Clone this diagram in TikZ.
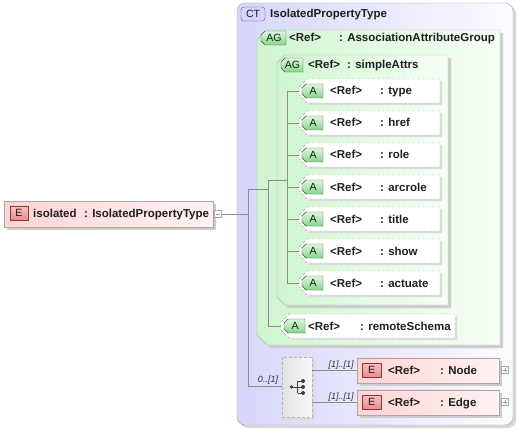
\documentclass[tikz,border=0pt]{standalone}
\usepackage{fontspec}
\setmainfont{Liberation Sans}
\definecolor{ctl}{HTML}{D6D6FA}
\definecolor{ctr}{HTML}{FBFBFF}
\definecolor{ctline}{HTML}{A8A8B8}
\definecolor{ctbf}{HTML}{D4D4FC}
\definecolor{ctbd}{HTML}{50508C}
\definecolor{agl}{HTML}{CFF5CF}
\definecolor{agr}{HTML}{F6FFF6}
\definecolor{agline}{HTML}{B0B8B0}
\definecolor{agbt}{HTML}{DDF8DD}
\definecolor{agbb}{HTML}{88D488}
\definecolor{agbd}{HTML}{2E5E2E}
\definecolor{el}{HTML}{FFD4D4}
\definecolor{er}{HTML}{FFF2F2}
\definecolor{eline}{HTML}{A8A8A8}
\definecolor{ebt}{HTML}{F8C0C0}
\definecolor{ebb}{HTML}{EA8C8C}
\definecolor{ebd}{HTML}{903838}
\definecolor{shadowc}{HTML}{CDCDCD}
\definecolor{connc}{HTML}{8C8C8C}
\definecolor{attline}{HTML}{A8A8A8}
\newcommand\chamfbox[6]{\path[#6] (#1+#5,#2) -- (#3,#2) -- (#3,#4) -- (#1+#5,#4) -- (#1,#4-#5) -- (#1,#2+#5) -- cycle;}
\newcommand\pointbox[5]{\path[#5] (#1+8,#3-12) -- (#2,#3-12) -- (#2,#3+12) -- (#1+8,#3+12) -- (#1,#3+4) -- (#1,#3-4) -- cycle;}
% #1 name, #2 x1, #3 x2, #4 cy, #5 text1 x, #6 text2 x, #7 label
\newcommand\attrib[7]{%
  \pointbox{#2+2}{#3+2}{#4+2}{}{fill=shadowc!70}
  \pointbox{#2}{#3}{#4}{}{draw=attline, dashed, dash pattern=on 3pt off 2pt, fill=white}
  \coordinate (#1) at (#2,#4);
  \chamfbox{#2+3}{#4-7}{#2+24}{#4+7}{4}{draw=agbd, top color=agbt, bottom color=agbb}
  \node[bdg] at (#2+14,#4) {A};
  \node[txt] at (#5,#4+4) {<Ref>};
  \node[txt] at (#6,#4+4) {: #7};
}
\begin{document}
\begin{tikzpicture}[x=1pt,y=-1pt,
  txt/.style={anchor=base west, inner sep=0, font=\bfseries\fontsize{11.5}{13}\selectfont, text=black!88},
  lbl/.style={inner sep=0, font=\itshape\fontsize{9}{10}\selectfont, text=black!80},
  bdg/.style={inner sep=0, font=\fontsize{10.5}{12}\selectfont, text=black!90},
  conn/.style={draw=connc, line width=0.6pt},
  ebox/.style={draw=eline, left color=el, right color=er, inner sep=0, anchor=north west},
  plusbox/.style={draw=gray!70, fill=white, minimum size=7, inner sep=0},
]
\useasboundingbox (0,0) rectangle (518,430);
\fill[white] (0,0) rectangle (518,430);

% complex type box
\fill[shadowc!80, rounded corners=8] (240,6) rectangle (516,428);
\path[draw=ctline, rounded corners=8, left color=ctl, right color=ctr] (237,3) rectangle (513,425);
\path[draw=ctbd, fill=ctbf, rounded corners=3] (241,7) rectangle (265,21);
\node[bdg] at (253,14) {CT};
\node[txt] (cttitle) at (270,18) {IsolatedPropertyType};

% outer attribute group
\chamfbox{260}{33}{503}{348}{10}{fill=shadowc}
\chamfbox{257}{30}{500}{345}{10}{draw=agline, left color=agl, right color=agr}
\chamfbox{261}{31}{286}{45}{4}{draw=agbd, top color=agbt, bottom color=agbb}
\node[bdg] at (274,38) {AG};
\node[txt] at (289,42) {<Ref>};
\node[txt] at (339,42) {: AssociationAttributeGroup};

% inner attribute group
\chamfbox{280}{58}{451}{308}{8}{fill=shadowc}
\chamfbox{277}{55}{448}{305}{8}{draw=agline, left color=agl, right color=agr}
\chamfbox{281}{58}{303}{72}{4}{draw=agbd, top color=agbt, bottom color=agbb}
\node[bdg] at (292.5,65) {AG};
\node[txt] at (308,69) {<Ref>};
\node[txt] at (347,69) {: simpleAttrs};

\attrib{type}{299}{440}{91}{330}{380}{type}
\attrib{href}{299}{440}{123}{330}{380}{href}
\attrib{role}{299}{440}{155}{330}{380}{role}
\attrib{arcrole}{299}{440}{187}{330}{380}{arcrole}
\attrib{title}{299}{440}{219}{330}{380}{title}
\attrib{show}{299}{440}{251}{330}{380}{show}
\attrib{actuate}{299}{440}{283}{330}{380}{actuate}

\attrib{remote}{281}{455}{326}{308}{360}{remoteSchema}

% element isolated
\fill[shadowc] (7,204) rectangle (216,230);
\node[ebox, minimum width=209, minimum height=26] (iso) at (4,201) {};
\path[draw=ebd, top color=ebt, bottom color=ebb] (10,206) rectangle (28,220);
\node[bdg] at (19,213) {E};
\node[txt] at (33,217) {isolated};
\node[txt] at (84,217) {: IsolatedPropertyType};
\node[plusbox] (isom) at (218,214) {};
\draw[gray!80] (215.8,214) -- (220.2,214);

% connectors
\coordinate (j1) at (248,214);
\coordinate (j1t) at (248,189);
\coordinate (j1b) at (248,386);
\coordinate (j2m) at (268,189);
\coordinate (j2t) at (268,180);
\coordinate (j2b) at (268,326);
\coordinate (j3m) at (287,180);
\coordinate (j3t) at (287,91);
\coordinate (j3b) at (287,283);
\draw[conn] (isom.east) -- (j1);
\draw[conn] (j1t) -- (j1b);
\draw[conn] (j1t) -- (j2m);
\draw[conn] (j2t) -- (j2b) -- (remote);
\draw[conn] (j2t) -- (j3m);
\draw[conn] (j3t) -- (j3b);
\foreach \a in {type,href,role,arcrole,title,show,actuate}
  \draw[conn] (j3t |- \a) -- (\a);

% sequence compositor
\fill[shadowc!70] (285,360) rectangle (315,420);
\node[draw=gray!60, dashed, dash pattern=on 3pt off 2pt, left color=gray!22, right color=gray!6, minimum width=30, minimum height=60, inner sep=0, anchor=north west] (seq) at (282,357) {};
\draw[conn] (j1b) -- (seq.west |- j1b);
\node[lbl] at (268,380) {0..[1]};
\begin{scope}[black!75]
  \fill (291.5,387) circle (1.8);
  \draw[line width=0.9pt] (291.5,387) -- (297.5,387);
  \draw[line width=0.9pt] (297.5,381) -- (297.5,393);
  \draw[line width=0.9pt] (297.5,381) -- (303,381) (297.5,387) -- (303,387) (297.5,393) -- (303,393);
  \fill (303,381) circle (2) (303,387) circle (2) (303,393) circle (2);
\end{scope}

% Node element
\fill[shadowc] (360,360.5) rectangle (502,385.5);
\node[ebox, minimum width=142, minimum height=25] (nodeE) at (357,357.5) {};
\path[draw=ebd, top color=ebt, bottom color=ebb] (362,363) rectangle (381,377);
\node[bdg] at (371.5,370) {E};
\node[txt] at (388,374) {<Ref>};
\node[txt] at (440,374) {: Node};
\node[plusbox] (nodeP) at (505,370) {};
\draw[gray!80] (503,370) -- (507,370) (505,368) -- (505,372);
\draw[conn] (seq.east |- nodeE.west) -- (nodeE.west);
\node[lbl] at (341,365) {[1]..[1]};

% Edge element
\fill[shadowc] (360,392.5) rectangle (502,417.5);
\node[ebox, minimum width=142, minimum height=25] (edgeE) at (357,389.5) {};
\path[draw=ebd, top color=ebt, bottom color=ebb] (362,395) rectangle (381,409);
\node[bdg] at (371.5,402) {E};
\node[txt] at (388,406) {<Ref>};
\node[txt] at (440,406) {: Edge};
\node[plusbox] (edgeP) at (505,402) {};
\draw[gray!80] (503,402) -- (507,402) (505,400) -- (505,404);
\draw[conn] (seq.east |- edgeE.west) -- (edgeE.west);
\node[lbl] at (341,397) {[1]..[1]};
\end{tikzpicture}
\end{document}
